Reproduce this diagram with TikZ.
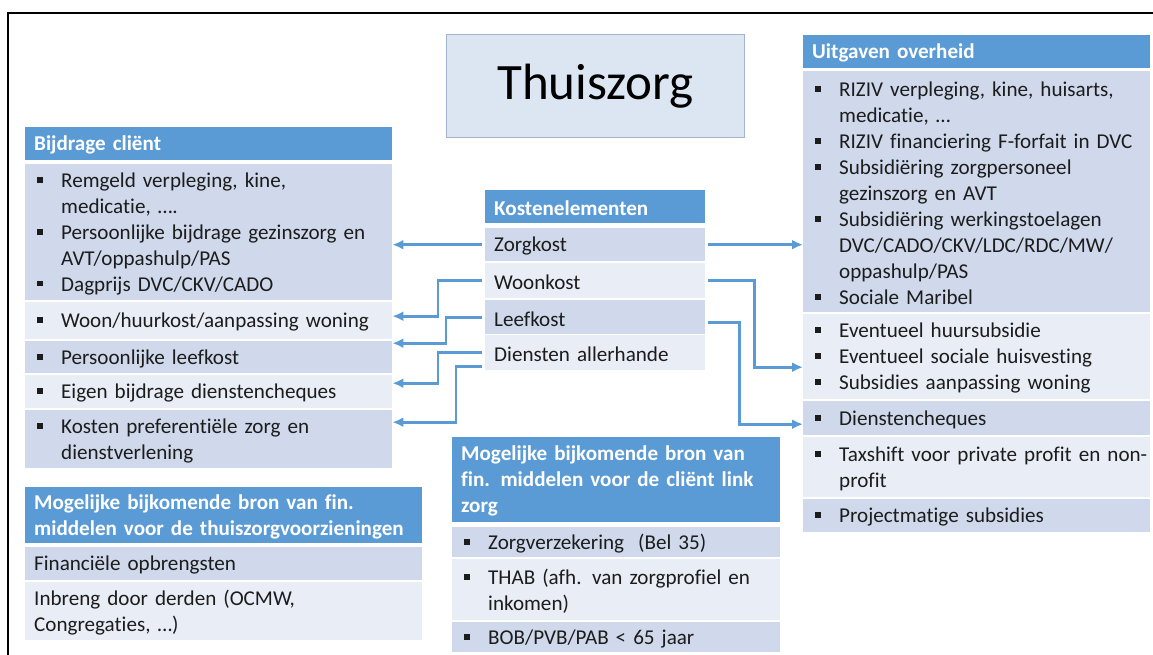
\documentclass[tikz,border=0pt]{standalone}
\usepackage{fontspec}
\setmainfont{Carlito}[Ligatures=NoCommon]
\usepackage{tikz}
\usetikzlibrary{arrows.meta}
\definecolor{bandblue}{HTML}{5B9BD5}
\definecolor{banddk}{HTML}{CFD9EB}
\definecolor{bandlt}{HTML}{E9EDF6}
\definecolor{titlefill}{HTML}{DCE6F2}
\definecolor{titleline}{HTML}{A3B3CB}
\definecolor{txt}{HTML}{1C1C1C}
\newcommand{\bodyfont}{\fontsize{21.1}{25.9}\selectfont}
\newcommand{\itm}[1]{\par\vskip-4pt\noindent\hangindent=36pt\hangafter=1\hspace*{12pt}\makebox[24pt][l]{\rule[.22em]{.28em}{.28em}}#1\par\kern4pt}
\newcommand{\pln}[1]{\par\vskip-4pt\noindent\hangindent=9pt\hangafter=0\relax#1\par\kern4pt}
\tikzset{
    cell/.style={anchor=north west, inner sep=0pt, align=left, text width=#1, font=\bodyfont, text=txt},
    hdr/.style={cell=#1, fill=bandblue, text=white, font=\bodyfont\bfseries},
    rowdk/.style={cell=#1, fill=banddk},
    rowlt/.style={cell=#1, fill=bandlt},
    conn/.style={draw=bandblue, line width=2.6pt, shorten <=3pt, -{Latex[length=11pt,width=10pt]}},
    titlebox/.style={anchor=north west, draw=titleline, line width=1.2pt, fill=titlefill,
        minimum width=298pt, minimum height=103pt, font=\fontsize{51}{60}\selectfont}
}
\begin{document}
\begin{tikzpicture}[x=1pt, y=-1pt]
\useasboundingbox (0,0) rectangle (1153,655);
\draw[line width=2.4pt] (1153,13) -- (8,13) -- (8,655);

\node[titlebox] (title) at (446,34) {Thuiszorg};

\node[hdr=367, minimum height=33pt] (bch) at (25,127) {\pln{Bijdrage cliënt}};
\node[rowdk=367, minimum height=136pt] (bc1) at (25,164) {\itm{Remgeld verpleging, kine,\newline medicatie, ….}\itm{Persoonlijke bijdrage gezinszorg en\newline AVT/oppashulp/PAS}\itm{Dagprijs DVC/CKV/CADO}};
\node[rowlt=367, minimum height=37pt] (bc2) at (25,302) {\itm{Woon/huurkost/aanpassing woning}};
\node[rowdk=367, minimum height=32pt] (bc3) at (25,341) {\itm{Persoonlijke leefkost}};
\node[rowlt=367, minimum height=33pt] (bc4) at (25,375) {\itm{Eigen bijdrage dienstencheques}};
\node[rowdk=367, minimum height=58pt] (bc5) at (25,410) {\itm{Kosten preferentiële zorg en\newline dienstverlening}};

\node[hdr=397, minimum height=56pt] (fth) at (25,487) {\pln{Mogelijke bijkomende bron van fin.\newline middelen voor de thuiszorgvoorzieningen}};
\node[rowdk=397, minimum height=33pt] (ft1) at (25,547) {\pln{Financiële opbrengsten}};
\node[rowlt=397, minimum height=58pt] (ft2) at (25,582) {\pln{Inbreng door derden (OCMW,\newline Congregaties, …)}};

\node[hdr=220, minimum height=33pt] (keh) at (485,190) {\pln{Kostenelementen}};
\node[rowdk=220, minimum height=33pt] (zorg) at (485,228) {\pln{Zorgkost}};
\node[rowlt=220, minimum height=35pt] (woon) at (485,263) {\pln{Woonkost}};
\node[rowdk=220, minimum height=34pt] (leef) at (485,300) {\pln{Leefkost}};
\node[rowlt=220, minimum height=35pt] (dienst) at (485,335) {\pln{Diensten allerhande}};

\node[hdr=328, minimum height=85pt] (fch) at (452,437) {\pln{Mogelijke bijkomende bron van\newline fin. middelen voor de cliënt link\newline zorg}};
\node[rowdk=328, minimum height=30pt] (fc1) at (452,527) {\itm{Zorgverzekering~ (Bel 35)}};
\node[rowlt=328, minimum height=61pt] (fc2) at (452,559) {\itm{THAB (afh. van zorgprofiel en\newline inkomen)}};
\node[rowdk=328, minimum height=30pt] (fc3) at (452,622) {\itm{BOB/PVB/PAB < 65 jaar}};

\node[hdr=347, minimum height=33pt] (ugh) at (803,35) {\pln{Uitgaven overheid}};
\node[rowdk=347, minimum height=241pt] (ug1) at (803,71) {\itm{RIZIV verpleging, kine, huisarts,\newline medicatie, …}\itm{RIZIV financiering F-forfait in DVC}\itm{Subsidiëring zorgpersoneel\newline gezinszorg en AVT}\itm{Subsidiëring werkingstoelagen\newline DVC/CADO/CKV/LDC/RDC/MW/\newline oppashulp/PAS}\itm{Sociale Maribel}};
\node[rowlt=347, minimum height=85pt] (ug2) at (803,314) {\itm{Eventueel huursubsidie}\itm{Eventueel sociale huisvesting}\itm{Subsidies aanpassing woning}};
\node[rowdk=347, minimum height=34pt] (ug3) at (803,401) {\itm{Dienstencheques}};
\node[rowlt=347, minimum height=60pt] (ug4) at (803,437) {\itm{Taxshift voor private profit en~non-\newline profit}};
\node[rowdk=347, minimum height=33pt] (ug5) at (803,499) {\itm{Projectmatige subsidies}};

\draw[conn] (zorg.west) -- (zorg.west -| bc1.east);
\draw[conn] (woon.west) -- ++(-47,0) |- ([yshift=4.5pt]bc2.east);
\draw[conn] (leef.west) -- ++(-39,0) |- ([yshift=14pt]bc3.east);
\draw[conn] (dienst.west) -- ++(-47,0) |- ([yshift=8.5pt]bc4.east);
\draw[conn] ([yshift=-13.5pt]dienst.west) -- ++(-29,0) |- ([yshift=17pt]bc5.east);
\draw[conn] (zorg.east) -- (zorg.east -| ug1.west);
\draw[conn] (woon.east) -- ++(49,0) |- ([yshift=-10.5pt]ug2.west);
\draw[conn] ([yshift=-5.5pt]leef.east) -- ++(34,0) |- ([yshift=-6pt]ug3.west);
\end{tikzpicture}
\end{document}
